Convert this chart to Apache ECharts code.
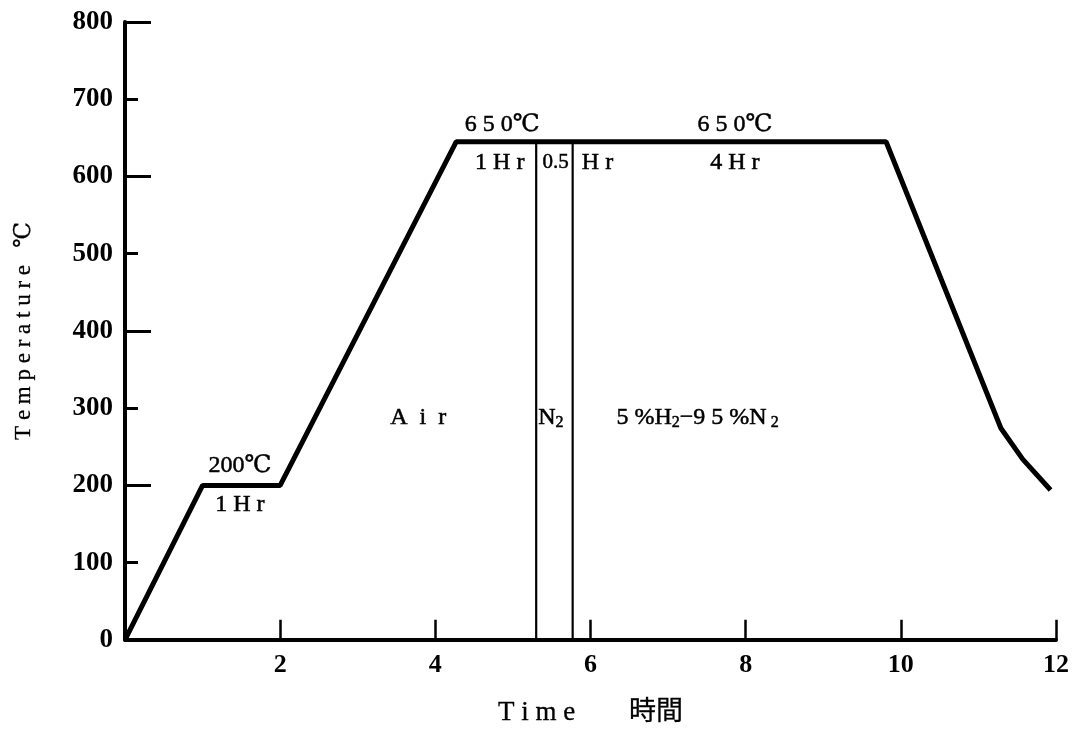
<!DOCTYPE html>
<html>
<head>
<meta charset="utf-8">
<script src="https://cdn.jsdelivr.net/npm/echarts@6/dist/echarts.min.js"></script>
<style>
html,body{margin:0;padding:0;background:#fff;}
#chart{width:1089px;height:732px;}
</style>
</head>
<body>
<div id="chart"></div>
<script>
// Heat-treatment profile (time in hours, temperature in °C)
const profileX = [0, 1.0, 2.0, 4.27, 9.81, 11.29, 11.57, 11.93];
const profileY = [0, 200, 200, 645, 645, 274, 234, 194];
// Atmosphere boundaries (vertical lines)
const boundaryX = [5.30, 5.77];
const boundaryTop = 645;
// Tick labels
const xTicks = [2, 4, 6, 8, 10, 12];
const yTicks = [0, 100, 200, 300, 400, 500, 600, 700, 800];
// Annotations
const noteText = ['200℃', '1Hr', '650℃', '1Hr', '0.5', 'Hr', '650℃', '4Hr', 'Air', 'N2', 'H2mix'];
const noteX = [1.48, 1.48, 4.86, 4.83, 5.55, 6.09, 7.86, 7.86, 3.78, 5.49, 7.38];
const noteY = [225, 175, 667, 618, 618, 618, 667, 618, 288, 288, 288];

const serif = '"Liberation Serif","DejaVu Serif","Noto Sans CJK JP",serif';
const labelMap = {
  '200℃': '200℃',
  '1Hr': '1 H r',
  '650℃': '6 5 0℃',
  '0.5': '{small|0.5}',
  'Hr': 'H r',
  '4Hr': '4 H r',
  'Air': 'A  i  r',
  'N2': 'N{sub|2}',
  'H2mix': '5 %H{sub|2}−9 5 %N{sub| 2}'
};

const chart = echarts.init(document.getElementById('chart'));
const profile = profileX.map((x, i) => [x, profileY[i]]);
const lines = boundaryX.map(x => ({
  type: 'line', data: [[x, 0], [x, boundaryTop]], symbol: 'none',
  lineStyle: {color: '#000', width: 2.2}, silent: true, animation: false
}));
const notes = noteText.map((t, i) => ({value: [noteX[i], noteY[i]], name: t}));

chart.setOption({
  animation: false,
  grid: {left: 125, right: 33, top: 22, bottom: 91},
  xAxis: {
    type: 'value', min: 0, max: 12, interval: 2,
    name: 'T i m e　　時間', nameLocation: 'middle', nameGap: 60,
    nameTextStyle: {fontFamily: serif, fontSize: 27, color: '#000', textBorderColor: '#000', textBorderWidth: 0.3},
    axisLine: {show: true, lineStyle: {color: '#000', width: 4}},
    axisTick: {show: true, inside: true, length: 20, lineStyle: {color: '#000', width: 2.5}},
    axisLabel: {
      color: '#000', fontFamily: serif, fontSize: 26, fontWeight: 'bold', margin: 12,
      formatter: v => xTicks.indexOf(v) >= 0 ? String(v) : ''
    },
    splitLine: {show: false}
  },
  yAxis: [{
    type: 'value', min: 0, max: 800, interval: 100, position: 'left',
    name: 'T e m p e r a t u r e   ℃', nameLocation: 'middle', nameGap: 90,
    nameTextStyle: {fontFamily: serif, fontSize: 23, color: '#000', textBorderColor: '#000', textBorderWidth: 0.3},
    axisLine: {show: true, lineStyle: {color: '#000', width: 4}},
    axisTick: {show: true, inside: true, length: 13, lineStyle: {color: '#000', width: 3}},
    axisLabel: {
      color: '#000', fontFamily: serif, fontSize: 27, fontWeight: 'bold', margin: 12,
      formatter: v => yTicks.indexOf(v) >= 0 ? String(v) : ''
    },
    splitLine: {show: false}
  }, {
    type: 'value', min: 0, max: 800, interval: 200, position: 'left',
    axisLine: {show: false},
    axisTick: {show: true, inside: true, length: 26, lineStyle: {color: '#000', width: 3}},
    axisLabel: {show: false},
    splitLine: {show: false}
  }],
  series: [{
    type: 'line', data: profile, symbol: 'none',
    lineStyle: {color: '#000', width: 5}, silent: true
  }].concat(lines).concat([{
    type: 'scatter', data: notes, symbolSize: 0, silent: true,
    itemStyle: {color: '#000', opacity: 1},
    label: {
      show: true, position: 'inside', color: '#000', fontFamily: serif, fontSize: 24,
      textBorderColor: '#000', textBorderWidth: 0.5,
      formatter: p => labelMap[p.name],
      rich: {
        sub: {fontFamily: serif, fontSize: 16, verticalAlign: 'bottom', padding: [11, 0, 0, 0], color: '#000', textBorderColor: '#000', textBorderWidth: 0.5},
        small: {fontFamily: serif, fontSize: 21, color: '#000', textBorderColor: '#000', textBorderWidth: 0.5}
      }
    }
  }])
});
</script>
</body>
</html>
